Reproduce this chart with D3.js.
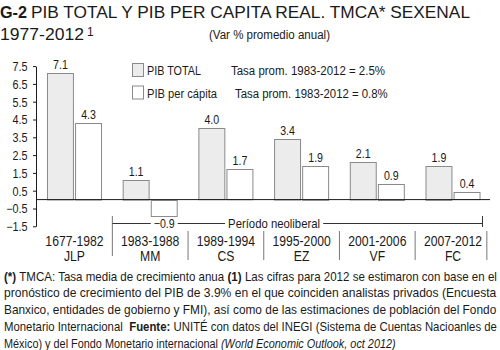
<!DOCTYPE html>
<html><head><meta charset="utf-8">
<script src="https://cdn.jsdelivr.net/npm/d3@7"></script>
<style>
body{margin:0;background:#fff;}
svg{display:block;font-family:"Liberation Sans",Arial,sans-serif;}
text{white-space:pre;}
</style></head>
<body><svg id="c" width="500" height="350"></svg>
<script>
const periods = ["1677-1982","1983-1988","1989-1994","1995-2000","2001-2006","2007-2012"];
const presidents = ["JLP","MM","CS","EZ","VF","FC"];
const pibTotal = [7.1,1.1,4.0,3.4,2.1,1.9];
const pibPerCapita = [4.3,-0.9,1.7,1.9,0.9,0.4];
const seriesNames = ["PIB TOTAL","PIB per cápita"];
const seriesNotes = ["Tasa prom. 1983-2012 = 2.5%","Tasa prom. 1983-2012 = 0.8%"];
const yTicks = [-1.5,-0.5,0.5,1.5,2.5,3.5,4.5,5.5,6.5,7.5];
const footLines = [
  [["(*)",700],[" TMCA: Tasa media de crecimiento anua ",400],["(1)",700],[" Las cifras para 2012 se estimaron con base en el",400]],
  [["pronóstico de crecimiento del PIB de 3.9% en el que coinciden analistas privados (Encuesta",400]],
  [["Banxico, entidades de gobierno y FMI), así como de las estimaciones de población del Fondo",400]],
  [["Monetario Internacional  ",400],["Fuente:",700],[" UNITÉ con datos del INEGI (Sistema de Cuentas Nacioanles de",400]],
  [["México) y del Fondo Monetario internacional ",400],["(World Economic Outlook, oct 2012)",400,"italic"]]
];

const svg = d3.select("#c");
const fill = ["#ececec","#ffffff"], stroke = "#8a8a8a", ink = "#1a1a1a";

function fit(sel, w){ sel.attr("textLength", w).attr("lengthAdjust","spacingAndGlyphs"); return sel; }
function condense(sel, f){ sel.each(function(){ const w=this.getComputedTextLength(); d3.select(this).attr("textLength", w*f).attr("lengthAdjust","spacingAndGlyphs"); }); return sel; }

// title
const tG = svg.append("text").attr("x",0).attr("y",18).attr("fill",ink).style("font-size","17px").attr("font-weight",700).text("G-2");
fit(tG, 27);
const t1 = svg.append("text").attr("x",31).attr("y",18).attr("fill",ink).style("font-size","17px")
  .text("PIB TOTAL Y PIB PER CAPITA REAL. TMCA* SEXENAL");
fit(t1, 439);
const t2 = svg.append("text").attr("x",0).attr("y",40).attr("fill",ink).style("font-size","17px").text("1977-2012");
fit(t2, 84);
svg.append("text").attr("x",87).attr("y",36).attr("fill",ink).style("font-size","12px").text("1");
fit(svg.append("text").attr("x",209).attr("y",38.5).attr("fill",ink)
  .style("font-size","12px").text("(Var % promedio anual)"), 121);

// scales
const y = d3.scaleLinear().domain([-1.5,7.5]).range([226.3,66.1]);
const x0 = d3.scaleBand().domain(periods).range([36,491.5]).paddingInner(0.273).paddingOuter(0.145);
const x1 = d3.scaleBand().domain([0,1]).range([0,x0.bandwidth()]).paddingInner(0.04);

// y axis
const ax = svg.append("g").attr("transform","translate(36,0)")
  .call(d3.axisLeft(y).tickValues(yTicks).tickSize(3).tickSizeOuter(0).tickFormat(d3.format(".1f")));
ax.select(".domain").attr("stroke",ink);
ax.selectAll(".tick line").attr("stroke",ink);
ax.selectAll(".tick text").attr("fill",ink).style("font-size","12px").style("font-family","inherit").attr("x",-8.5).attr("dy","0.36em");
condense(ax.selectAll(".tick text"), 0.9);

// bars
const data = periods.map((p,i)=>({p, vals:[pibTotal[i],pibPerCapita[i]]}));
const g = svg.append("g").selectAll("g").data(data).join("g").attr("transform",d=>`translate(${x0(d.p)},0)`);
g.selectAll("rect").data(d=>d.vals.map((v,k)=>({v,k}))).join("rect")
  .attr("x",d=>x1(d.k)+0.5).attr("width",x1.bandwidth()-1)
  .attr("y",d=>Math.round(Math.min(y(d.v),y(0)))+0.5).attr("height",d=>Math.abs(y(d.v)-y(0)))
  .attr("fill",d=>fill[d.k]).attr("stroke",stroke).attr("stroke-width",1);
const vl = g.selectAll("text.v").data(d=>d.vals.map((v,k)=>({v,k}))).join("text").attr("class","v")
  .attr("x",d=>x1(d.k)+x1.bandwidth()/2).attr("y",d=>d.v>=0? y(d.v)-4 : y(d.v)+12.5)
  .attr("text-anchor","middle").attr("fill",ink).style("font-size","12.5px").text(d=>d3.format(".1f")(d.v));
condense(vl, 0.85);

// zero line
svg.append("line").attr("x1",36).attr("x2",490).attr("y1",y(0)).attr("y2",y(0)).attr("stroke",ink);

// category labels
const step = x0.step();
periods.forEach((p,i)=>{
  const cx = x0(p)+x0.bandwidth()/2;
  condense(svg.append("text").attr("x",cx).attr("y",245.5).attr("text-anchor","middle").attr("fill",ink).style("font-size","14px").text(p), 0.87);
  condense(svg.append("text").attr("x",cx).attr("y",260.5).attr("text-anchor","middle").attr("fill",ink).style("font-size","14px").text(presidents[i]), 0.87);
  if(i>0){
    const sx = x0(p) - (step-x0.bandwidth())/2;
    svg.append("line").attr("x1",sx).attr("x2",sx).attr("y1",i===1?216:231).attr("y2",i===1?256:260).attr("stroke","#777");
  }
});
const endX = x0(periods[5])+x0.bandwidth()+ (step-x0.bandwidth())/2 - 4;
svg.append("line").attr("x1",endX).attr("x2",endX).attr("y1",231).attr("y2",260).attr("stroke","#777");

// período neoliberal bracket
const bx0 = x0(periods[1]) - (step-x0.bandwidth())/2, bx1 = x0(periods[5])+x0.bandwidth()+2;
const by = 223.5;
const pl = svg.append("text").attr("x",x0(periods[3])).attr("y",by+4.5).attr("text-anchor","middle").attr("fill",ink)
  .style("font-size","13px").text("Período neoliberal");
fit(pl, 92);
const bb = pl.node().getBBox();
const negLbl = vl.filter(d=>d.v<0).node();
const nb = negLbl.getBBox();
const nx = x0(periods[1]);
const segs = [[bx0, nx+nb.x-3],[nx+nb.x+nb.width+3, bb.x-3],[bb.x+bb.width+3, bx1]];
segs.forEach(s=>svg.append("line").attr("x1",s[0]).attr("x2",s[1]).attr("y1",by).attr("y2",by).attr("stroke","#333"));
svg.append("line").attr("x1",bx1).attr("x2",bx1).attr("y1",216).attr("y2",227).attr("stroke","#333");

// legend
const nameW = [54,70], noteX = [231,235], noteW = [154,152.7];
seriesNames.forEach((n,i)=>{
  const ly = 63+i*22.5;
  svg.append("rect").attr("x",132.5).attr("y",ly+0.5).attr("width",11).attr("height",13).attr("fill",fill[i]).attr("stroke",stroke);
  fit(svg.append("text").attr("x",147).attr("y",ly+12).attr("fill",ink).style("font-size","12.5px").text(n), nameW[i]);
  fit(svg.append("text").attr("x",noteX[i]).attr("y",ly+12).attr("fill",ink).style("font-size","12.5px").text(seriesNotes[i]), noteW[i]);
});

// footnote: font size chosen so each line naturally fills its width; stretched vertically to the reference height
footLines.forEach((line,i)=>{
  const target = i<footLines.length-1 ? 493 : 392;
  const yy = 280.5 + i*16.8;
  const lg = svg.append("g");
  const runs = line.map(s=>{
    const t = lg.append("text").attr("y",0).attr("fill",ink).style("font-size","13px")
      .attr("font-weight",s[1]).text(s[0]);
    if(s[2]) t.attr("font-style",s[2]);
    return {t, w:t.node().getComputedTextLength()};
  });
  const total = d3.sum(runs,r=>r.w);
  const fs = 13*target/total;
  let x = 4;
  runs.forEach(r=>{ r.t.style("font-size",fs+"px"); r.w = r.t.node().getComputedTextLength(); });
  const tot2 = d3.sum(runs,r=>r.w);
  const extra = (target - tot2);
  runs.forEach((r,k)=>{ r.t.attr("x",x); x += r.w + (k<runs.length-1 ? 0 : 0); });
  if(Math.abs(extra)>0.5){ // spread any leftover evenly over run boundaries
    let acc = 0; const step2 = extra/Math.max(1,runs.length);
    runs.forEach(r=>{ r.t.attr("x", +r.t.attr("x") + acc); acc += step2; });
  }
  const sy = Math.min(13/fs, 1.15);
  lg.attr("transform",`translate(0,${yy}) scale(1,${sy})`);
});
</script></body></html>
